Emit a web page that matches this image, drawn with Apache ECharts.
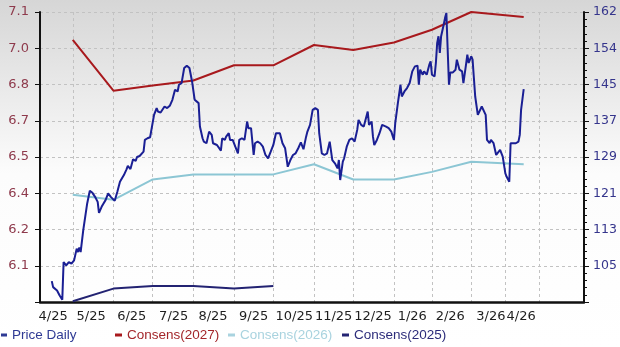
<!DOCTYPE html>
<html><head><meta charset="utf-8">
<script src="https://cdn.jsdelivr.net/npm/echarts@6/dist/echarts.min.js"></script>
<style>html,body{margin:0;padding:0;background:#fff}#c{width:620px;height:347px}</style>
</head><body><div id="c"></div>
<script>
const priceDates = [
'2025-04-15','2025-04-16','2025-04-17','2025-04-19','2025-04-21','2025-04-23','2025-04-24','2025-04-26','2025-04-28','2025-04-30',
'2025-05-02','2025-05-04','2025-05-05','2025-05-06','2025-05-07','2025-05-09','2025-05-10','2025-05-12','2025-05-14','2025-05-16','2025-05-18','2025-05-20','2025-05-21','2025-05-23','2025-05-24','2025-05-26','2025-05-28','2025-05-30','2025-05-31',
'2025-06-02','2025-06-04','2025-06-06','2025-06-09','2025-06-11','2025-06-12','2025-06-14','2025-06-16','2025-06-18','2025-06-19','2025-06-21','2025-06-24','2025-06-25','2025-06-27','2025-06-29',
'2025-07-02','2025-07-04','2025-07-05','2025-07-07','2025-07-10','2025-07-12','2025-07-14','2025-07-16','2025-07-18','2025-07-20','2025-07-21','2025-07-23','2025-07-25','2025-07-27','2025-07-29','2025-07-31',
'2025-08-02','2025-08-03','2025-08-05','2025-08-06','2025-08-08','2025-08-09','2025-08-11','2025-08-13','2025-08-15','2025-08-16','2025-08-19','2025-08-20','2025-08-22','2025-08-23','2025-08-25','2025-08-26','2025-08-28','2025-08-29','2025-08-31',
'2025-09-02','2025-09-04','2025-09-05','2025-09-07','2025-09-09','2025-09-11','2025-09-12','2025-09-14','2025-09-16','2025-09-17','2025-09-19','2025-09-21','2025-09-23','2025-09-25','2025-09-27','2025-09-29',
'2025-10-01','2025-10-03','2025-10-04','2025-10-06','2025-10-08','2025-10-10','2025-10-12','2025-10-14','2025-10-16','2025-10-18','2025-10-20','2025-10-22','2025-10-24','2025-10-26','2025-10-27','2025-10-29','2025-10-31',
'2025-11-02','2025-11-04','2025-11-05','2025-11-07','2025-11-09','2025-11-11','2025-11-13','2025-11-15','2025-11-17','2025-11-19','2025-11-20','2025-11-21','2025-11-23','2025-11-24','2025-11-26','2025-11-28','2025-11-30',
'2025-12-02','2025-12-04','2025-12-05','2025-12-07','2025-12-09','2025-12-10','2025-12-12','2025-12-13','2025-12-15','2025-12-16','2025-12-17','2025-12-19','2025-12-21','2025-12-23','2025-12-26','2025-12-28','2025-12-30',
'2026-01-01','2026-01-02','2026-01-04','2026-01-06','2026-01-07','2026-01-09','2026-01-11','2026-01-13','2026-01-15','2026-01-17','2026-01-19','2026-01-20','2026-01-21','2026-01-23','2026-01-24','2026-01-26','2026-01-28','2026-01-29','2026-01-30',
'2026-02-01','2026-02-02','2026-02-03','2026-02-04','2026-02-05','2026-02-06','2026-02-08','2026-02-09','2026-02-10','2026-02-11','2026-02-12','2026-02-13','2026-02-15','2026-02-17','2026-02-18','2026-02-20','2026-02-22','2026-02-23','2026-02-25','2026-02-26','2026-02-27',
'2026-03-01','2026-03-02','2026-03-03','2026-03-04','2026-03-06','2026-03-07','2026-03-09','2026-03-10','2026-03-12','2026-03-13','2026-03-15','2026-03-16','2026-03-18','2026-03-20','2026-03-21','2026-03-23','2026-03-25','2026-03-27','2026-03-28','2026-03-30','2026-03-31',
'2026-04-02','2026-04-04','2026-04-06','2026-04-07','2026-04-08','2026-04-10'
];
const priceValues = [
101.55,100.2,100.58,99.45,98.32,97.36,105.83,105.09,105.83,105.47,
106.21,108.85,108.08,109.08,108.08,112.98,113.36,118.99,121.83,121.38,120.48,119.35,116.87,118.23,118.77,119.74,121.25,120.48,120.35,
119.58,121.61,123.86,125.37,126.66,127.45,126.72,128.91,128.57,129.43,129.65,130.62,133.26,133.64,133.87,
138.9,140.41,139.64,139.41,140.77,140.41,140.93,142.28,144.53,144.15,145.66,146.04,149.42,149.94,149.42,146.4,
142.28,142.66,141.53,136.26,133.64,132.88,132.52,135.13,134.39,132.52,132.13,131.75,130.85,133.64,133.26,134.0,134.77,133.26,133.26,
131.75,130.26,133.26,133.64,133.26,137.39,135.9,135.9,129.88,132.52,132.88,132.52,131.75,129.88,129.14,130.62,
132.13,134.77,135.13,134.77,132.52,131.39,127.24,128.75,129.88,130.26,131.39,132.7,131.17,134.0,135.13,136.64,140.02,
140.41,140.02,134.77,130.26,129.88,130.26,132.88,128.75,128.01,126.88,128.75,124.25,128.37,129.14,131.75,133.26,133.64,
132.88,135.52,137.77,136.64,136.26,137.39,139.64,136.64,137.39,134.0,132.13,133.26,134.77,136.64,136.26,135.9,135.13,
133.26,137.03,141.53,145.66,143.02,144.15,144.91,146.04,148.66,149.78,149.94,145.66,149.04,147.91,148.66,147.91,150.17,150.91,147.91,
147.53,150.55,155.06,156.55,152.8,156.55,159.18,160.69,161.8,153.55,145.66,148.43,148.43,149.04,151.29,149.04,148.66,146.04,150.17,152.42,150.55,
152.04,151.29,147.17,143.02,138.9,138.9,140.77,141.15,138.9,133.26,132.52,133.26,132.52,129.88,130.26,131.01,129.5,125.76,124.99,123.86,132.52,
132.52,132.52,132.88,134.39,140.02,144.69
];
const consDates = ['2025-05-01','2025-06-01','2025-07-01','2025-08-01','2025-09-01','2025-10-01','2025-11-01','2025-12-01','2026-01-01','2026-01-30','2026-03-01','2026-04-10'];
const cons2027Values = [6.99,6.79,6.81,6.83,6.89,6.89,6.97,6.95,6.98,7.03,7.10,7.08];
const cons2026Values = [6.38,6.36,6.44,6.46,6.46,6.46,6.50,6.44,6.44,6.47,6.51,6.50];
const cons2025Dates = ['2025-05-01','2025-06-01','2025-07-01','2025-08-01','2025-09-01','2025-10-01'];
const cons2025Values = [5.96,6.01,6.02,6.02,6.01,6.02];

const xLabelDates = ['2025-04-16','2025-05-15','2025-06-15','2025-07-17','2025-08-16','2025-09-16','2025-10-17','2025-11-16','2025-12-16','2026-01-15','2026-02-13','2026-03-16','2026-04-08'];
const xLabels = ['4/25','5/25','6/25','7/25','8/25','9/25','10/25','11/25','12/25','1/26','2/26','3/26','4/26'];
const monthLineDates = ['2025-05-01','2025-06-01','2025-07-01','2025-08-01','2025-09-01','2025-10-01','2025-11-01','2025-12-01','2026-01-01','2026-01-30','2026-03-01','2026-03-27','2026-04-22'];
const leftTickLabels = ['','6.1','6.2','6.4','6.5','6.7','6.8','7.0','7.1'];
const rightTickLabels = ['','105','113','121','129','137','145','154','162'];
const xStart = '2025-04-06', xEnd = '2026-05-26';
const leftMin = 7.1 - 8/7, leftMax = 7.1;
const rightMin = 162 - 8*(57/7), rightMax = 162;

const DAY = 86400000;
const ts = s => { const p = s.split('-').map(Number); return Date.UTC(p[0], p[1]-1, p[2]); };
const zip = (d, v) => d.map((x, i) => [ts(x), v[i]]);
const leftStep = (leftMax - leftMin) / 8;
const rightStep = (rightMax - rightMin) / 8;
const xLabelTs = xLabelDates.map(ts);
const monthLineTs = monthLineDates.map(ts);
const gridDash = {color: '#c2c2c2', width: 1, type: [3, 3]};

const chart = echarts.init(document.getElementById('c'), null, {renderer: 'canvas'});
chart.setOption({
  animation: false,
  backgroundColor: {type: 'linear', x: 0, y: 0, x2: 0, y2: 1, colorStops: [
    {offset: 0, color: '#d6d6d6'}, {offset: 0.5, color: '#fcfcfc'}, {offset: 1, color: '#ffffff'}]},
  grid: {left: 40, top: 12, width: 544, height: 290, outerBoundsMode: 'none', containLabel: false},
  legend: [
    {data: [{name: 'Price Daily', icon: 'rect'}], left: 1, top: 328, padding: 0, itemWidth: 6, itemHeight: 3, itemGap: 0, selectedMode: false,
     textStyle: {color: '#2f3a94', fontFamily: 'Liberation Sans', fontSize: 13.5}},
    {data: [{name: 'Consens(2027)', icon: 'rect'}], left: 115, top: 328, padding: 0, itemWidth: 7, itemHeight: 3, itemGap: 0, selectedMode: false,
     textStyle: {color: '#a3262a', fontFamily: 'Liberation Sans', fontSize: 13.5}},
    {data: [{name: 'Consens(2026)', icon: 'rect'}], left: 228, top: 328, padding: 0, itemWidth: 7, itemHeight: 3, itemGap: 0, selectedMode: false,
     textStyle: {color: '#a9d3df', fontFamily: 'Liberation Sans', fontSize: 13.5}},
    {data: [{name: 'Consens(2025)', icon: 'rect'}], left: 342, top: 328, padding: 0, itemWidth: 7, itemHeight: 3, itemGap: 0, selectedMode: false,
     textStyle: {color: '#2c2c7a', fontFamily: 'Liberation Sans', fontSize: 13.5}}
  ],
  xAxis: {
    type: 'value', min: ts(xStart), max: ts(xEnd),
    axisLine: {show: true, lineStyle: {color: '#111', width: 2.5}},
    axisTick: {show: true, length: 0, customValues: monthLineTs, lineStyle: {color: 'rgba(0,0,0,0)'}},
    splitLine: {show: true, lineStyle: gridDash, customValues: monthLineTs},
    axisLabel: {customValues: xLabelTs, hideOverlap: false, margin: 8, color: '#1e1e1e',
      fontFamily: 'DejaVu Sans', fontSize: 13,
      formatter: v => { const i = xLabelTs.findIndex(t => Math.abs(t - v) < DAY / 2); return i >= 0 ? xLabels[i] : ''; }}
  },
  yAxis: [
    {type: 'value', position: 'left', min: leftMin, max: leftMax, interval: leftStep,
     axisLine: {show: true, lineStyle: {color: '#111', width: 2}},
     axisTick: {show: true, length: 5, lineStyle: {color: '#111'}},
     splitLine: {show: true, lineStyle: gridDash},
     axisLabel: {margin: 11, color: '#8e3a4c', fontFamily: 'DejaVu Sans', fontSize: 13, hideOverlap: true,
       formatter: v => leftTickLabels[Math.round((v - leftMin) / leftStep)] || ''}},
    {type: 'value', position: 'right', min: rightMin, max: rightMax, interval: rightStep,
     axisLine: {show: true, lineStyle: {color: '#111', width: 2}},
     axisTick: {show: true, length: 5, lineStyle: {color: '#111'}},
     minorTick: {show: true, splitNumber: 5, length: 3, lineStyle: {color: '#111'}},
     splitLine: {show: false},
     axisLabel: {margin: 9, color: '#35358c', fontFamily: 'DejaVu Sans', fontSize: 12.5, hideOverlap: true,
       formatter: v => rightTickLabels[Math.round((v - rightMin) / rightStep)] || ''}}
  ],
  series: [
    {name: 'Consens(2027)', type: 'line', yAxisIndex: 0, data: zip(consDates, cons2027Values), showSymbol: false,
     lineStyle: {color: '#a8191d', width: 2}, itemStyle: {color: '#a8191d'}},
    {name: 'Consens(2026)', type: 'line', yAxisIndex: 0, data: zip(consDates, cons2026Values), showSymbol: false,
     lineStyle: {color: '#8cc6d4', width: 2}, itemStyle: {color: '#a9d3df'}},
    {name: 'Consens(2025)', type: 'line', yAxisIndex: 0, data: zip(cons2025Dates, cons2025Values), showSymbol: false,
     lineStyle: {color: '#232372', width: 2}, itemStyle: {color: '#232372'}},
    {name: 'Price Daily', type: 'line', yAxisIndex: 1, data: zip(priceDates, priceValues), showSymbol: false,
     lineStyle: {color: '#1a1f94', width: 2}, itemStyle: {color: '#2f3a94'}}
  ]
});
</script>
</body></html>
